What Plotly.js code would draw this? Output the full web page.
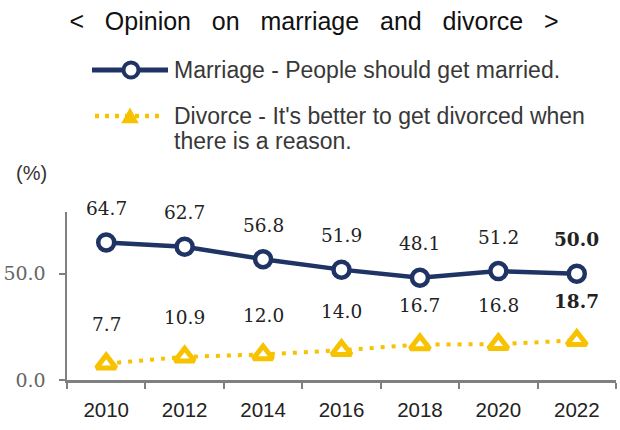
<!DOCTYPE html>
<html><head><meta charset="utf-8">
<script src="https://cdn.plot.ly/plotly-3.0.1.min.js"></script>
<style>html,body{margin:0;padding:0;background:#fff}#c{width:620px;height:430px}</style>
</head><body><div id="c"></div>
<script>
const years = ['2010','2012','2014','2016','2018','2020','2022'];
const marriage = [64.7, 62.7, 56.8, 51.9, 48.1, 51.2, 50.0];
const divorce = [7.7, 10.9, 12.0, 14.0, 16.7, 16.8, 18.7];
const marriageName = 'Marriage - People should get married.';
const divorceLine1 = "Divorce - It's better to get divorced when";
const divorceLine2 = 'there is a reason.';
const titleWords = ['<', 'Opinion', 'on', 'marriage', 'and', 'divorce', '>'];
const yTicks = [0, 50];
const yTickText = ['0.0', '50.0'];
const unitLabel = '(%)';

const navy = '#1f3464';
const gold = '#f7c200';
const serif = 'DejaVu Serif';
const sans = 'Liberation Sans';

// plot frame (pixels)
const M = {l: 67, r: 4, t: 212, b: 50};
const W = 620 - M.l - M.r, H = 430 - M.t - M.b;
const px = x => (x - M.l) / W;
const py = y => (430 - M.b - y) / H;

const traces = [
  {x: years, y: marriage, name: marriageName, type: 'scatter', mode: 'lines+markers', showlegend: false,
   line: {color: navy, width: 4.5},
   marker: {symbol: 'circle', size: 16, color: '#ffffff', line: {color: navy, width: 4.5}}},
  {x: years, y: divorce, name: divorceLine1, type: 'scatter', mode: 'lines+markers', showlegend: false,
   line: {color: gold, width: 4, dash: '4px,7px'},
   marker: {symbol: 'triangle-up', size: 17, color: '#ffffff', line: {color: gold, width: 5}}}
];

const annotations = [];
const fmt = v => v.toFixed(1);
years.forEach((yr, i) => {
  const last = i === years.length - 1;
  annotations.push({x: i, y: marriage[i], xref: 'x', yref: 'y',
    text: last ? '<b>' + fmt(marriage[i]) + '</b>' : fmt(marriage[i]),
    showarrow: false, yshift: 34, font: {family: serif, size: 18.5, color: '#222'}});
  annotations.push({x: i, y: divorce[i], xref: 'x', yref: 'y',
    text: last ? '<b>' + fmt(divorce[i]) + '</b>' : fmt(divorce[i]),
    showarrow: false, yshift: 39, font: {family: serif, size: 18.5, color: '#222'}});
});
annotations.push({text: unitLabel, xref: 'paper', yref: 'paper', x: px(31), y: py(173), xanchor: 'center', yanchor: 'middle',
  showarrow: false, font: {family: sans, size: 20, color: '#333'}});
// legend texts
const legFont = {family: sans, size: 23, color: '#383838'};
annotations.push({text: marriageName, xref: 'paper', yref: 'paper', x: px(172), y: py(70), xanchor: 'left', yanchor: 'middle', showarrow: false, font: legFont});
annotations.push({text: divorceLine1, xref: 'paper', yref: 'paper', x: px(172), y: py(116), xanchor: 'left', yanchor: 'middle', showarrow: false, font: legFont});
annotations.push({text: divorceLine2, xref: 'paper', yref: 'paper', x: px(172), y: py(141), xanchor: 'left', yanchor: 'middle', showarrow: false, font: legFont});

// legend symbols
const shapes = [
  {type: 'line', xref: 'paper', yref: 'paper', x0: px(92), x1: px(168), y0: py(70), y1: py(70), line: {color: navy, width: 5}},
  {type: 'circle', xref: 'paper', yref: 'paper', x0: px(123.5), x1: px(138.5), y0: py(77.5), y1: py(62.5), fillcolor: '#fff', line: {color: navy, width: 4}},
  {type: 'line', xref: 'paper', yref: 'paper', x0: px(95), x1: px(163), y0: py(116), y1: py(116), line: {color: gold, width: 4.5, dash: '4px,6px'}},
  {type: 'path', xref: 'paper', yref: 'paper', fillcolor: gold, line: {color: gold, width: 1.5},
   path: 'M' + px(122.5) + ',' + py(122.5) + ' L' + px(137.5) + ',' + py(122.5) + ' L' + px(130) + ',' + py(109) + ' Z'}
];

const layout = {
  width: 620, height: 430,
  margin: M,
  paper_bgcolor: '#fff', plot_bgcolor: '#fff',
  title: {text: titleWords.join('\u00a0\u00a0\u00a0'), x: 314 / 620, xref: 'container', xanchor: 'center',
    y: 1 - 21 / 430, yref: 'container', yanchor: 'middle',
    font: {family: sans, size: 25, color: '#111'}},
  showlegend: false,
  xaxis: {type: 'category', range: [-0.5, 6.5], showgrid: false, zeroline: false,
    showline: true, linecolor: '#808080', linewidth: 2.5,
    ticks: 'outside', ticklen: 6, tickwidth: 2, tickcolor: '#808080', tickson: 'boundaries',
    ticklabelstandoff: 10,
    tickfont: {family: sans, size: 20.5, color: '#222'}, fixedrange: true},
  yaxis: {range: [0, 79], tickvals: yTicks, ticktext: yTickText, showgrid: false, zeroline: false,
    showline: true, linecolor: '#808080', linewidth: 2.5,
    ticks: 'outside', ticklen: 6, tickwidth: 2, tickcolor: '#808080',
    ticklabelstandoff: 9,
    tickfont: {family: serif, size: 19, color: '#666'}, fixedrange: true},
  annotations: annotations,
  shapes: shapes
};
Plotly.newPlot('c', traces, layout, {displayModeBar: false, staticPlot: true});
</script></body></html>
